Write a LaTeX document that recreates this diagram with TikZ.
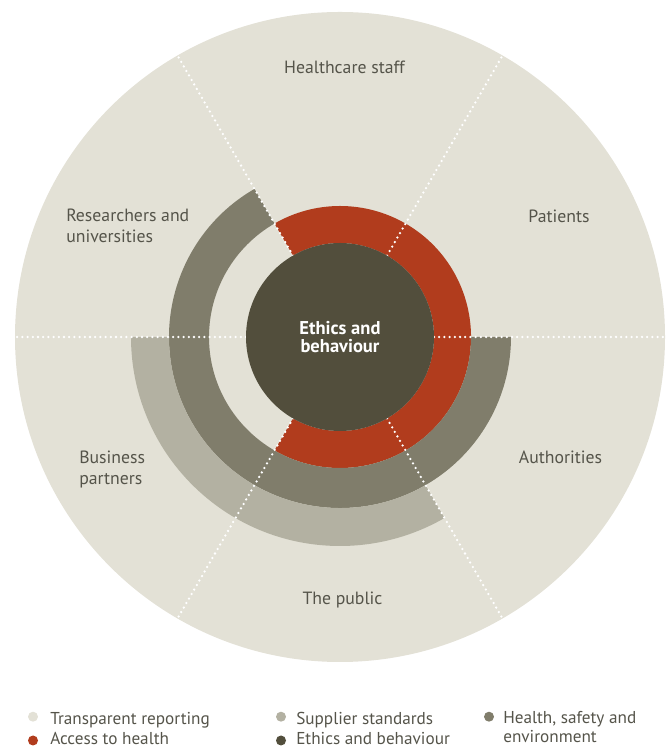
\documentclass[tikz,border=0pt]{standalone}
\usepackage{fontspec}
\setmainfont{PT Sans}
\usetikzlibrary{calc}

\definecolor{bgbeige}{HTML}{E3E1D6}
\definecolor{accessred}{HTML}{B13C1D}
\definecolor{healthgray}{HTML}{807D6B}
\definecolor{suppliergray}{HTML}{B3B1A2}
\definecolor{coreolive}{HTML}{524E3C}
\definecolor{txtgray}{HTML}{55544A}

% filled piece of a ring around (C): colour, start angle, end angle, inner radius, outer radius
\newcommand{\ringpiece}[5]{%
  \fill[#1] ($(C)+(#2:#5)$) arc[start angle=#2, end angle=#3, radius=#5]
    -- ($(C)+(#3:#4)$) arc[start angle=#3, end angle=#2, radius=#4] -- cycle;}

\begin{document}
\begin{tikzpicture}[x=0.75pt, y=0.75pt,
  lbl/.style={text=txtgray, font=\fontsize{13.3}{15.8}\selectfont, inner sep=0pt, align=left},
  lblc/.style={lbl, align=center},
  keytext/.style={lbl, font=\fontsize{12.9}{14.5}\selectfont},
  divider/.style={white, line width=1.9pt, line cap=round, dash pattern=on 0pt off 3.9pt},
  keydot/.style={circle, inner sep=0pt, minimum size=7.5pt}]

\useasboundingbox (0,0) rectangle (665,748);
\coordinate (C) at (340,411);

% outer disc: transparent reporting
\fill[bgbeige] (C) circle[radius=325];

% rings
\ringpiece{accessred}{-120}{120}{94}{131}
\ringpiece{healthgray}{120}{360}{131}{171}
\ringpiece{suppliergray}{180}{300}{171}{209}

% dotted sector borders
\foreach \a in {0,60,...,300} {
  \coordinate (in\a) at ($(C)+(\a:94)$);
  \coordinate (out\a) at ($(C)+(\a:325)$);
  \draw[divider] (in\a) -- (out\a);
}

% core
\node[circle, fill=coreolive, minimum size=141pt, inner sep=0pt, text=white,
      font=\fontsize{13.9}{13.6}\selectfont\bfseries, align=center] (core) at (C) {Ethics and\\behaviour};

% stakeholder labels (multi-line labels are placed by their last baseline)
\node[lblc, anchor=base] (staff) at (344.5,674) {Healthcare staff};
\node[lblc, anchor=base] (patients) at (559,525) {Patients};
\node[lbl, anchor=base west] (research) at (66,505) {Researchers and\\universities};
\node[lbl, anchor=base west] (business) at (79,263) {Business\\partners};
\node[lblc, anchor=base] (authorities) at (560.5,284) {Authorities};
\node[lblc, anchor=base] (public) at (342.5,143) {The public};

% legend
\node[keydot, fill=bgbeige] (k1) at (33,31.3) {};
\node[keytext, anchor=base west] (t1) at (50,23) {Transparent reporting};
\node[keydot, fill=accessred] (k2) at (33,7.5) {};
\node[keytext, anchor=base west] (t2) at (50,3) {Access to health};
\node[keydot, fill=suppliergray] (k3) at (281,31.3) {};
\node[keytext, anchor=base west] (t3) at (296,23) {Supplier standards};
\node[keydot, fill=coreolive] (k4) at (281,7.5) {};
\node[keytext, anchor=base west] (t4) at (296,3) {Ethics and behaviour};
\node[keydot, fill=healthgray] (k5) at (489,31.3) {};
\node[keytext, anchor=base west] (t5) at (503,5) {Health, safety and\\environment};
\end{tikzpicture}
\end{document}
